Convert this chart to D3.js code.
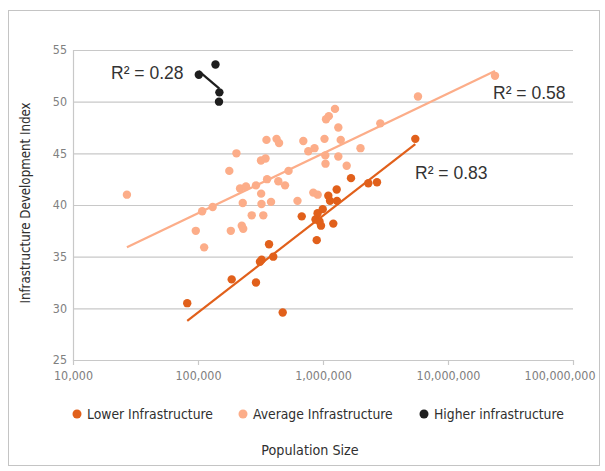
<!DOCTYPE html>
<meta charset="utf-8">
<script src="https://cdn.jsdelivr.net/npm/d3@7"></script>
<style>
body {margin: 0; background: #fff;}
.tick text {font-family: "Liberation Sans Narrow", "DejaVu Sans Condensed", "Roboto", sans-serif; fill: #808080; font-size: 12.4px;}
.lbl {font-family: "Liberation Sans Narrow", "DejaVu Sans Condensed", "Roboto", sans-serif; fill: #303030;}
.r2 {font-family: "Liberation Sans", Arial, sans-serif; fill: #333; font-size: 17.5px;}
</style>
<div id="vis"></div>
<script>
// population / index pairs
var lowerPop = [82000, 186000, 291000, 313000, 323000, 370000, 400000, 476000, 676000, 891000, 871000, 938000, 964000, 905000, 995000, 1103000, 1138000, 1294000, 1209000, 1287000, 1675000, 2304000, 2704000, 5475000];
var lowerIdx = [30.5, 32.8, 32.5, 34.5, 34.7, 36.2, 35.0, 29.6, 38.9, 36.6, 38.6, 38.4, 38.0, 39.2, 39.6, 40.9, 40.4, 40.4, 38.2, 41.5, 42.6, 42.1, 42.2, 46.4];

var averagePop = [27000, 96000, 108000, 131000, 112000, 178000, 183000, 203000, 217000, 242000, 224000, 230000, 228000, 291000, 269000, 319000, 347000, 320000, 322000, 333000, 357000, 384000, 353000, 425000, 445000, 439000, 497000, 530000, 625000, 696000, 763000, 855000, 836000, 907000, 1028000, 1043000, 1047000, 1057000, 1113000, 1247000, 1326000, 1386000, 1326000, 1547000, 1995000, 2873000, 5754000, 23770000];
var averageIdx = [41.0, 37.5, 39.4, 39.8, 35.9, 43.3, 37.5, 45.0, 41.6, 41.8, 38.0, 37.7, 40.2, 41.9, 39.0, 44.3, 44.5, 41.1, 40.1, 39.0, 42.5, 40.3, 46.3, 46.4, 46.0, 42.3, 41.9, 43.3, 40.4, 46.2, 45.2, 45.5, 41.2, 41.0, 46.4, 44.8, 44.0, 48.3, 48.6, 49.3, 47.5, 46.3, 44.7, 43.8, 45.5, 47.9, 50.5, 52.5];

var higherPop = [101500, 138000, 148300, 147200];
var higherIdx = [52.6, 53.6, 50.9, 50.0];

var seriesNames = ["Lower Infrastructure", "Average Infrastructure", "Higher infrastructure"];
var seriesColors = ["#e1601b", "#fcad89", "#1e1e1e"];
var r2Labels = ["R\u00b2 = 0.83", "R\u00b2 = 0.58", "R\u00b2 = 0.28"];

var xTicks = [1e4, 1e5, 1e6, 1e7, 1e8];
var yTicks = [25, 30, 35, 40, 45, 50, 55];

var width = 605, height = 471;
var plotL = 73, plotR = 573, plotT = 50, plotB = 360;

var svg = d3.select("#vis").append("svg")
    .attr("width", width)
    .attr("height", height);

// outer chart border
svg.append("rect")
    .attr("x", 8.5).attr("y", 10.5)
    .attr("width", 591).attr("height", 455)
    .attr("fill", "none")
    .attr("stroke", "#c4c4c4");

var x = d3.scaleLog().domain([1e4, 1e8]).range([plotL, plotR]);
var y = d3.scaleLinear().domain([25, 55]).range([plotB, plotT]);

// horizontal gridlines + y labels
var yAxis = svg.append("g")
    .attr("transform", "translate(" + plotL + ",0)")
    .call(d3.axisLeft(y).tickValues(yTicks).tickSize(-(plotR - plotL)).tickPadding(6));
yAxis.selectAll(".tick line").attr("stroke", "#c8c8c8").attr("stroke-width", 1.2);
yAxis.select(".domain").attr("stroke", "#c8c8c8").attr("stroke-width", 1.2);

var xAxis = svg.append("g")
    .attr("transform", "translate(0," + plotB + ")")
    .call(d3.axisBottom(x).tickValues(xTicks).tickFormat(d3.format(",")).tickSize(5).tickSizeOuter(0).tickPadding(6));
xAxis.selectAll(".tick line").attr("stroke", "#c8c8c8").attr("stroke-width", 1.2);
xAxis.select(".domain").attr("stroke", "#c8c8c8").attr("stroke-width", 1.2);
// last label pulled in so it stays inside the frame
xAxis.selectAll(".tick text").filter(function(d) { return d === 1e8; })
    .attr("text-anchor", "end").attr("x", 22);

var series = [
  {pop: lowerPop, idx: lowerIdx},
  {pop: averagePop, idx: averageIdx},
  {pop: higherPop, idx: higherIdx}
];

// least squares on log10(pop)
function fit(s) {
  var lx = s.pop.map(function(d) { return Math.log10(d); });
  var mx = d3.mean(lx), my = d3.mean(s.idx);
  var sxy = d3.sum(lx, function(d, i) { return (d - mx) * (s.idx[i] - my); });
  var sxx = d3.sum(lx, function(d) { return (d - mx) * (d - mx); });
  var b = sxy / sxx, a = my - b * mx;
  var x0 = d3.min(s.pop), x1 = d3.max(s.pop);
  return [[x0, a + b * Math.log10(x0)], [x1, a + b * Math.log10(x1)]];
}

var line = d3.line().x(function(d) { return x(d[0]); }).y(function(d) { return y(d[1]); });

// draw points, average first so lower sits on top
[1, 0, 2].forEach(function(k) {
  var s = series[k];
  svg.append("g").selectAll("circle")
      .data(s.pop)
      .enter().append("circle")
      .attr("cx", function(d) { return x(d); })
      .attr("cy", function(d, i) { return y(s.idx[i]); })
      .attr("r", 4.2)
      .attr("fill", seriesColors[k]);
});

[1, 0, 2].forEach(function(k) {
  svg.append("path")
      .attr("d", line(fit(series[k])))
      .attr("stroke", seriesColors[k])
      .attr("stroke-width", 2.2)
      .attr("fill", "none");
});

// R squared labels
var r2Pos = [[415, 179], [493, 99], [111, 79]];
svg.selectAll(".r2").data(r2Labels).enter().append("text")
    .attr("class", "r2")
    .attr("x", function(d, i) { return r2Pos[i][0]; })
    .attr("y", function(d, i) { return r2Pos[i][1]; })
    .text(function(d) { return d; });

// legend
var legX = [77, 243, 424];
var leg = svg.selectAll(".leg").data(seriesNames).enter().append("g")
    .attr("transform", function(d, i) { return "translate(" + legX[i] + ",414)"; });
leg.append("circle").attr("r", 4.5).attr("fill", function(d, i) { return seriesColors[i]; });
leg.append("text").attr("class", "lbl")
    .attr("x", 10).attr("y", 5)
    .style("font-size", "13.8px")
    .text(function(d) { return d; });

// axis titles
svg.append("text").attr("class", "lbl")
    .attr("x", 310).attr("y", 455)
    .attr("text-anchor", "middle")
    .style("font-size", "14.2px")
    .text("Population Size");

svg.append("text").attr("class", "lbl")
    .attr("transform", "translate(30,203) rotate(-90)")
    .attr("text-anchor", "middle")
    .style("font-size", "13.2px")
    .text("Infrastructure Development Index");
</script>
